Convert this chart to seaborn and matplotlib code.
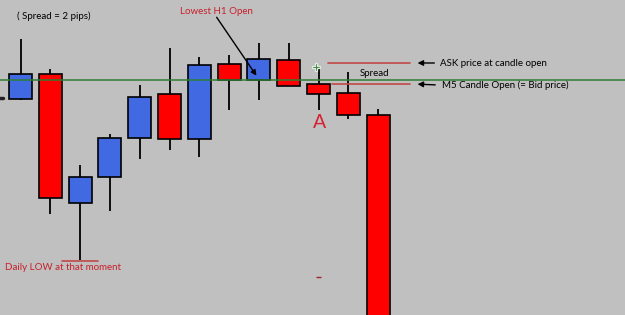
import matplotlib
matplotlib.use("Agg")
import matplotlib.pyplot as plt
import seaborn as sns
import numpy as np
import pandas as pd

# Candle data (arbitrary price units)
candles = list(range(13))
opens  = [216, 241, 112, 138, 177, 221, 176, 251, 235, 255, 231, 222, 200]
closes = [241, 117, 138, 177, 218, 176, 250, 235, 256, 229, 221, 200, -20]
highs  = [276, 246, 150, 181, 230, 267, 258, 260, 272, 272, 248, 243, 206]
lows   = [215, 101,  55, 104, 156, 165, 158, 205, 215, 229, 205, 196, -20]

h1_open_level = 235      # green line (lowest H1 open)
ask_level = 252
bid_level = 231
daily_low = 54

sns.set_theme(style="white")
plt.rcParams['font.family'] = ['Lato', 'DejaVu Sans']

df = pd.DataFrame({"i": candles, "open": opens, "close": closes,
                   "high": highs, "low": lows})
df["bull"] = df["close"] >= df["open"]

fig = plt.figure(figsize=(6.25, 3.15), dpi=100)
ax = fig.add_axes([0, 0, 1, 1])
bg = "#c0c0c0"
fig.patch.set_facecolor(bg)
ax.set_facecolor(bg)

blue = "#4169e1"
red = "#ff0000"
txt_red = "#c8202a"

# wicks
ax.vlines(df["i"], df["low"], df["high"], color="black", lw=1.3, zorder=2)
# bodies
w = 0.77
bottoms = np.minimum(df["open"], df["close"])
heights = np.abs(df["close"] - df["open"])
cols = [blue if b else red for b in df["bull"]]
ax.bar(df["i"], heights, bottom=bottoms, width=w, color=cols,
       edgecolor="black", linewidth=1.2, zorder=3)

# green level line
ax.axhline(h1_open_level, color="#2e7d32", lw=1.1, zorder=4)

# small mark at left edge
ax.plot([-0.69, -0.6], [217, 217], color="#222222", lw=2.5, zorder=4)

# ask / bid lines
ax.plot([10.32, 13.07], [ask_level, ask_level], color="#c04848", lw=1.2, zorder=4)
ax.plot([10.45, 13.07], [bid_level, bid_level], color="#c04848", lw=1.2, zorder=4)

# daily low line
ax.plot([1.39, 2.60], [daily_low, daily_low], color="#c04848", lw=1.2, zorder=4)

# small red dash
ax.plot([9.90, 10.08], [38, 38], color="#a02030", lw=1.0, zorder=4,
        solid_capstyle="butt")

# green plus marker at candle 11 open tick
ax.plot([9.92], [248], marker="P", color="#2e7d32", markersize=6,
        markeredgecolor="#e0ece0", markeredgewidth=0.9, zorder=5)

fs = 7
ax.text(-0.12, 299, "( Spread = 2 pips)", fontsize=fs, color="black",
        ha="left", va="center")
ax.text(6.56, 304, "Lowest H1 Open", fontsize=fs, color=txt_red,
        ha="center", va="center")
ax.annotate("", xy=(7.97, 237), xytext=(6.53, 300),
            arrowprops=dict(arrowstyle="-|>", color="black", lw=1,
                            mutation_scale=8))
ax.text(-0.52, 47, "Daily LOW at that moment", fontsize=fs, color=txt_red,
        ha="left", va="center")
ax.text(11.39, 241, "Spread", fontsize=fs, color="black", ha="left", va="center")
ax.text(14.08, 252, "ASK price at candle open", fontsize=fs, color="black",
        ha="left", va="center")
ax.text(14.14, 230, "M5 Candle Open (= Bid price)", fontsize=fs, color="black",
        ha="left", va="center")
ax.annotate("", xy=(13.23, 252), xytext=(13.98, 252),
            arrowprops=dict(arrowstyle="-|>", color="black", lw=1,
                            mutation_scale=8))
ax.annotate("", xy=(13.23, 231), xytext=(14.01, 230),
            arrowprops=dict(arrowstyle="-|>", color="black", lw=1,
                            mutation_scale=8))
ax.text(10.02, 193, "A", fontsize=14, color="#d42030", ha="center", va="center")

ax.set_xlim(-0.688, 20.285)
ax.set_ylim(0, 315)
ax.axis("off")

fig.savefig("out.png", dpi=100, facecolor=bg)
